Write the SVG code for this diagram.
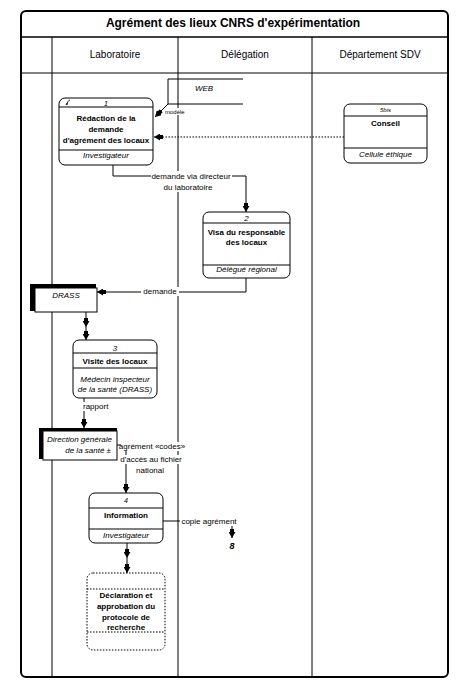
<svg xmlns="http://www.w3.org/2000/svg" width="468" height="686" viewBox="0 0 468 686">
<style>
text{font-family:"Liberation Sans",Arial,sans-serif;fill:#000}
.ttl{font-size:12px;font-weight:bold;text-anchor:middle}
.lane{font-size:10px;text-anchor:middle}
.b{font-size:8px;font-weight:bold;text-anchor:middle}
.i{font-size:8px;font-style:italic;text-anchor:middle}
.n{font-size:7px;font-style:italic;text-anchor:middle}
.lbl{font-size:8px;text-anchor:middle}
.node{fill:#fff;stroke:#000;stroke-width:1}
.sep{stroke:#000;stroke-width:1}
.dot{fill:#fff;stroke:#000;stroke-width:1;stroke-dasharray:1.5,1.5}
.conn{fill:none;stroke:#000;stroke-width:1;marker-end:url(#a)}
.bg{fill:#fff}
</style>
<defs>
<marker id="a" viewBox="0 0 9 7" refX="9" refY="3.5" markerWidth="9" markerHeight="7" markerUnits="userSpaceOnUse" orient="auto">
<path d="M0,1.5 H3 V0 L9,3.5 L3,7 V5.5 H0 Z" fill="#000"/>
</marker>
</defs>
<rect width="468" height="686" fill="#fff"/>
<g id="frame">
<rect x="21" y="11" width="427" height="666" rx="5" fill="none" stroke="#000" stroke-width="2"/>
<line x1="21" y1="37" x2="448" y2="37" stroke="#000" stroke-width="1.5"/>
<line x1="21" y1="73" x2="448" y2="73" stroke="#000" stroke-width="1"/>
<line x1="52" y1="37" x2="52" y2="677" stroke="#000" stroke-width="1"/>
<line x1="178" y1="37" x2="178" y2="677" stroke="#000" stroke-width="1"/>
<line x1="312" y1="37" x2="312" y2="677" stroke="#000" stroke-width="1"/>
<text class="ttl" x="233" y="27">Agrément des lieux CNRS d'expérimentation</text>
<text class="lane" x="115" y="58">Laboratoire</text>
<text class="lane" x="245" y="58">Délégation</text>
<text class="lane" x="380" y="58">Département SDV</text>
</g>
<g id="connectors">
<path class="conn" d="M168,104 L155,117"/>
<rect class="bg" x="164" y="108" width="20" height="7"/>
<text x="165" y="114" style="font-size:6px">modèle</text>
<path class="conn" d="M344,137 H154" stroke-dasharray="1.5,1.5"/>
<path class="conn" d="M113,165 V176 H246 V212"/>
<rect class="bg" x="151" y="171" width="81" height="21"/>
<text class="lbl" x="191" y="179">demande via directeur</text>
<text class="lbl" x="188" y="190">du laboratoire</text>
<path class="conn" d="M246,278 V292 H97"/>
<rect class="bg" x="141" y="287" width="38" height="9"/>
<text class="lbl" x="160" y="294">demande</text>
<path class="conn" d="M86,312 L86,327 L86,340" marker-mid="url(#a)"/>
<path class="conn" d="M84,398 V428"/>
<rect class="bg" x="82" y="402" width="26" height="9"/>
<text x="83" y="409" style="font-size:8px">rapport</text>
<path class="conn" d="M117,445 H126 V493"/>
<rect class="bg" x="121" y="442" width="63" height="9"/>
<rect class="bg" x="117" y="455" width="67" height="9"/>
<rect class="bg" x="134" y="466" width="31" height="9"/>
<text class="lbl" x="152" y="449">agrément «codes»</text>
<text class="lbl" x="151" y="462">d'accès au fichier</text>
<text class="lbl" x="150" y="473">national</text>
<path class="conn" d="M163,521 H232 V538"/>
<rect class="bg" x="180" y="517" width="58" height="9"/>
<text class="lbl" x="209" y="524">copie agrément</text>
<text x="232" y="549" style="font-size:9px;font-weight:bold;font-style:italic;text-anchor:middle">8</text>
<path class="conn" d="M127,543 L127,558 L127,573" marker-mid="url(#a)"/>
</g>
<g id="web">
<path d="M243,79 H168 V104 H243" fill="none" stroke="#000" stroke-width="1"/>
<text class="i" x="204" y="91">WEB</text>
</g>
<g id="node1">
<rect class="node" x="59" y="98" width="94" height="67" rx="6"/>
<line class="sep" x1="59" y1="107" x2="153" y2="107"/>
<line class="sep" x1="59" y1="150" x2="153" y2="150"/>
<path d="M67,105 C67,102 69,100 70,100 M66,105 L67,103" fill="none" stroke="#000" stroke-width="0.9"/>
<text class="n" x="106" y="106">1</text>
<text class="b" x="106" y="121">Rédaction de la</text>
<text class="b" x="106" y="132">demande</text>
<text class="b" x="106" y="143">d'agrément des locaux</text>
<text class="i" x="106" y="158">Investigateur</text>
</g>
<g id="conseil">
<rect class="node" x="344" y="104" width="83" height="59" rx="6"/>
<line class="sep" x1="344" y1="116" x2="427" y2="116"/>
<line class="sep" x1="344" y1="148" x2="427" y2="148"/>
<text x="385.5" y="112" style="font-size:6px;font-style:italic;text-anchor:middle">5bis</text>
<text class="b" x="385.5" y="126">Conseil</text>
<text class="i" x="385.5" y="157">Cellule éthique</text>
</g>
<g id="node2">
<rect class="node" x="203" y="212" width="87" height="66" rx="6"/>
<line class="sep" x1="203" y1="223" x2="290" y2="223"/>
<line class="sep" x1="203" y1="265" x2="290" y2="265"/>
<text class="i" x="246.5" y="221">2</text>
<text class="b" x="246.5" y="235">Visa du responsable</text>
<text class="b" x="246.5" y="245">des locaux</text>
<text class="i" x="246.5" y="272">Délégué régional</text>
</g>
<g id="drass">
<polygon points="30,284 96,284 96,288 35,288 35,311 30,311" fill="#000"/>
<rect class="node" x="35" y="288" width="62" height="24"/>
<text class="i" x="66" y="298">DRASS</text>
</g>
<g id="node3">
<rect class="node" x="73" y="340" width="84" height="58" rx="6"/>
<line class="sep" x1="73" y1="353" x2="157" y2="353"/>
<line class="sep" x1="73" y1="368" x2="157" y2="368"/>
<text class="i" x="115" y="351">3</text>
<text class="b" x="115" y="364">Visite des locaux</text>
<text class="i" x="115" y="382">Médecin inspecteur</text>
<text class="i" x="115" y="392">de la santé (DRASS)</text>
</g>
<g id="dgs">
<polygon points="39,428 117,428 117,431 43,431 43,459 39,459" fill="#000"/>
<rect class="node" x="43" y="431" width="74" height="29"/>
<text x="112" y="442" style="font-size:8px;font-style:italic;text-anchor:end">Direction générale</text>
<text x="111" y="453" style="font-size:8px;font-style:italic;text-anchor:end">de la santé ±</text>
</g>
<g id="node4">
<rect class="node" x="89" y="493" width="74" height="50" rx="6"/>
<line class="sep" x1="89" y1="508" x2="163" y2="508"/>
<line class="sep" x1="89" y1="529" x2="163" y2="529"/>
<text class="n" x="126" y="503">4</text>
<text class="b" x="126" y="518">Information</text>
<text class="i" x="126" y="538">Investigateur</text>
</g>
<g id="node5">
<rect class="dot" x="87" y="573" width="78" height="77" rx="6"/>
<line class="dot" x1="87" y1="589" x2="165" y2="589"/>
<line class="dot" x1="87" y1="632" x2="165" y2="632"/>
<text class="b" x="126" y="598">Déclaration et</text>
<text class="b" x="126" y="609">approbation du</text>
<text class="b" x="126" y="620">protocole de</text>
<text class="b" x="126" y="630">recherche</text>
</g>
</svg>
